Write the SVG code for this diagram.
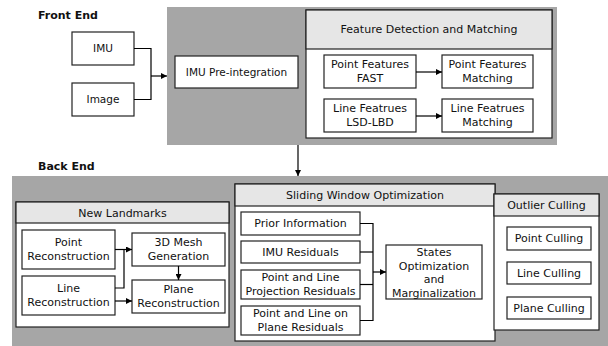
<svg xmlns="http://www.w3.org/2000/svg" width="608" height="346" viewBox="0 0 608 346">
<defs>
<marker id="ah" markerWidth="6" markerHeight="6" refX="6" refY="3" orient="auto" markerUnits="userSpaceOnUse">
<path d="M0,0 L6,3 L0,6 z" fill="#000"/>
</marker>
<style>
.bg{fill:#a6a6a6;stroke:none}
.box{fill:#fff;stroke:#222;stroke-width:1.2}
.hdr{fill:#e6e6e6;stroke:#222;stroke-width:1.2}
.t{font-family:"DejaVu Sans",sans-serif;font-size:11px;fill:#111;text-anchor:middle}
.s{font-size:10.5px}
.b{font-family:"DejaVu Sans",sans-serif;font-size:11px;font-weight:bold;fill:#111}
.c{fill:none;stroke:#000;stroke-width:1.2}
</style>
</defs>
<rect x="0" y="0" width="608" height="346" fill="#fff"/>
<rect class="bg" x="167" y="7" width="390" height="138"/>
<rect class="bg" x="12" y="176" width="596" height="170"/>
<text class="b" x="38" y="19">Front End</text>
<text class="b" x="38" y="170">Back End</text>

<g id="imu"><rect class="box" x="72" y="32" width="62" height="33"/><text class="t s" x="103" y="52">IMU</text></g>
<g id="image"><rect class="box" x="72" y="83" width="62" height="33"/><text class="t s" x="103" y="103">Image</text></g>
<g id="preint"><rect class="box" x="175" y="56" width="123" height="32"/><text class="t s" x="236.5" y="76">IMU Pre-integration</text></g>

<g id="feature">
<rect class="box" x="306" y="10" width="246" height="128"/>
<rect class="hdr" x="306" y="10" width="246" height="39"/>
<text class="t" x="429" y="33">Feature Detection and Matching</text>
</g>
<g id="pfast"><rect class="box" x="324" y="55" width="92" height="33"/><text class="t" x="370" y="68">Point Features</text><text class="t" x="370" y="82">FAST</text></g>
<g id="pmatch"><rect class="box" x="442" y="55" width="91" height="33"/><text class="t" x="487.5" y="68">Point Features</text><text class="t" x="487.5" y="82">Matching</text></g>
<g id="lsd"><rect class="box" x="324" y="99" width="92" height="33"/><text class="t" x="370" y="112">Line Featrues</text><text class="t" x="370" y="126">LSD-LBD</text></g>
<g id="lmatch"><rect class="box" x="442" y="99" width="91" height="33"/><text class="t" x="487.5" y="112">Line Featrues</text><text class="t" x="487.5" y="126">Matching</text></g>

<g id="newlandmarks">
<rect class="box" x="16" y="202" width="213" height="125"/>
<rect class="hdr" x="16" y="202" width="213" height="21"/>
<text class="t" x="122.5" y="216.5">New Landmarks</text>
</g>
<g id="prec"><rect class="box" x="22" y="230" width="93" height="39"/><text class="t" x="68.5" y="246">Point</text><text class="t" x="68.5" y="260">Reconstruction</text></g>
<g id="lrec"><rect class="box" x="22" y="276" width="93" height="39"/><text class="t" x="68.5" y="292">Line</text><text class="t" x="68.5" y="306">Reconstruction</text></g>
<g id="mesh"><rect class="box" x="132" y="233" width="93" height="33"/><text class="t" x="178.5" y="246">3D Mesh</text><text class="t" x="178.5" y="260">Generation</text></g>
<g id="plrec"><rect class="box" x="132" y="280" width="93" height="33"/><text class="t" x="178.5" y="293">Plane</text><text class="t" x="178.5" y="307">Reconstruction</text></g>

<g id="sliding">
<rect class="box" x="235" y="184" width="260" height="157"/>
<rect class="hdr" x="235" y="184" width="260" height="22"/>
<text class="t" x="365" y="199">Sliding Window Optimization</text>
</g>
<g id="prior"><rect class="box" x="241" y="212" width="119" height="23"/><text class="t" x="300.5" y="227">Prior Information</text></g>
<g id="imures"><rect class="box" x="241" y="241" width="119" height="22"/><text class="t" x="300.5" y="256">IMU Residuals</text></g>
<g id="proj"><rect class="box" x="241" y="270" width="119" height="29"/><text class="t" x="300.5" y="281">Point and Line</text><text class="t" x="300.5" y="295">Projection Residuals</text></g>
<g id="plres"><rect class="box" x="241" y="306" width="119" height="29"/><text class="t" x="300.5" y="317">Point and Line on</text><text class="t" x="300.5" y="331">Plane Residuals</text></g>
<g id="states"><rect class="box" x="386" y="245" width="96" height="54"/><text class="t" x="434" y="256">States</text><text class="t" x="434" y="270">Optimization</text><text class="t" x="434" y="283">and</text><text class="t" x="434" y="297">Marginalization</text></g>

<g id="outlier">
<rect class="box" x="494" y="194" width="105" height="136"/>
<rect class="hdr" x="494" y="194" width="105" height="22"/>
<text class="t" x="546.5" y="209">Outlier Culling</text>
</g>
<g id="pcull"><rect class="box" x="507" y="227" width="84" height="23"/><text class="t" x="549" y="242">Point Culling</text></g>
<g id="lcull"><rect class="box" x="507" y="262" width="84" height="22"/><text class="t" x="549" y="277">Line Culling</text></g>
<g id="plcull"><rect class="box" x="507" y="297" width="84" height="22"/><text class="t" x="549" y="312">Plane Culling</text></g>

<g id="connectors">
<path class="c" d="M134,48.5 H151 V99.5 H134"/>
<path class="c" d="M151,76 H167" marker-end="url(#ah)"/>
<path class="c" d="M416,72 H442" marker-end="url(#ah)"/>
<path class="c" d="M416,116 H442" marker-end="url(#ah)"/>
<path class="c" d="M298,145 V176" marker-end="url(#ah)"/>
<path class="c" d="M115,249.5 H132" marker-end="url(#ah)"/>
<path class="c" d="M115,288 H124 V249.5"/>
<path class="c" d="M115,301 H132" marker-end="url(#ah)"/>
<path class="c" d="M178.5,266 V280" marker-end="url(#ah)"/>
<path class="c" d="M360,223.5 H373 V320.5 H360"/>
<path class="c" d="M360,252 H373"/>
<path class="c" d="M360,284.5 H373"/>
<path class="c" d="M373,272 H386" marker-end="url(#ah)"/>
</g>
</svg>
